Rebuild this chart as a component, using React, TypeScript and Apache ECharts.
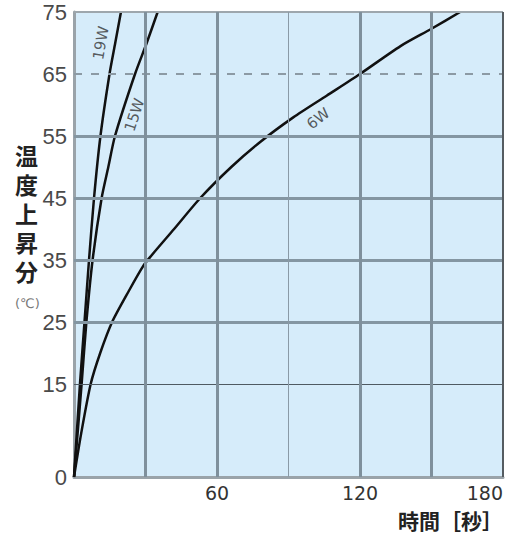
import React, { useEffect, useRef } from "react";
import * as echarts from "echarts";

// ---- data ----
const xTickLabels = [60, 120, 180];
const yTickLabels = [0, 15, 25, 35, 45, 55, 65, 75];

const time19W = [0, 2.5, 4.4, 6.3, 8.4, 11.1, 14.9, 17.3, 19.7];
const temp19W = [0, 15, 25, 35, 45, 55, 65, 70, 75];

const time15W = [0, 3.2, 5.2, 7.8, 11.6, 14.4, 17.2, 25.6, 30.5, 35.1];
const temp15W = [0, 15, 25, 35, 45, 50, 55, 65, 70, 75];

const time6W = [0, 3, 7, 11, 16, 23, 29, 32, 42, 53, 66, 78, 92, 106, 120, 137, 150, 162];
const temp6W = [0, 7, 15, 20, 25, 30, 34, 35.5, 40, 45, 50, 54, 58, 61.5, 65, 69.5, 72.3, 75];

const curveNames = ["19W", "15W", "6W"];
const labelTimes = [11.3, 25.4, 102.5];
const labelTemps = [70, 58.4, 57.8];

const yTitleChars = ["温", "度", "上", "昇", "分"];

const hGridThin = [15];
const hGridThick = [25, 35, 45, 55];
const hGridDashed = [65];
const vGridThick = [30, 60, 120, 150];
const vGridThin = [90];

const pairs = (xs: number[], ys: number[]) => xs.map((x, i) => [x, ys[i]]);

export default function App() {
  const ref = useRef<HTMLDivElement>(null);

  useEffect(() => {
    if (!ref.current) return;
    const chart = echarts.init(ref.current, undefined, { renderer: "svg" });

    const labelRot = [80, 72, 38];

    const markData: any[] = [
      ...hGridThin.map((v) => ({ yAxis: v, lineStyle: { color: "#4f5a62", width: 1, type: "solid" } })),
      ...hGridThick.map((v) => ({ yAxis: v, lineStyle: { color: "#8496a2", width: 3, type: "solid" } })),
      ...hGridDashed.map((v) => ({ yAxis: v, lineStyle: { color: "#8c9aa4", width: 2, type: [8, 9] } })),
      { yAxis: 75, lineStyle: { color: "#9ea7ad", width: 2, type: "solid" } },
      ...vGridThick.map((v) => ({ xAxis: v, lineStyle: { color: "#7f909c", width: 3, type: "solid" } })),
      ...vGridThin.map((v) => ({ xAxis: v, lineStyle: { color: "#8a9aa6", width: 1, type: "solid" } })),
      { xAxis: 180, lineStyle: { color: "#555c61", width: 2, type: "solid" } },
    ];

    const curveSeries = [
      pairs(time19W, temp19W),
      pairs(time15W, temp15W),
      pairs(time6W, temp6W),
    ].map((d, i) => ({
      type: "line",
      name: curveNames[i],
      data: d,
      showSymbol: false,
      smooth: 0.25,
      z: 4,
      lineStyle: { color: "#111", width: 2.5 },
      silent: true,
    }));

    chart.setOption({
      animation: false,
      backgroundColor: "#ffffff",
      grid: {
        left: 74,
        right: 10,
        top: 12,
        bottom: 61,
        show: true,
        backgroundColor: "#d6ecfa",
        borderWidth: 0,
      },
      xAxis: {
        type: "value",
        min: 0,
        max: 180,
        axisLine: { show: true, lineStyle: { color: "#9aa3a9", width: 3 } },
        axisTick: { show: false },
        splitLine: { show: false },
        axisLabel: {
          customValues: xTickLabels,
          alignMaxLabel: "right",
          fontFamily: "DejaVu Sans",
          fontSize: 19,
          color: "#333",
          margin: 6,
        },
      },
      yAxis: {
        type: "value",
        min: 0,
        max: 75,
        axisLine: { show: true, lineStyle: { color: "#9aa3a9", width: 3 } },
        axisTick: { show: false },
        splitLine: { show: false },
        axisLabel: {
          customValues: yTickLabels,
          fontFamily: "Liberation Sans",
          fontSize: 22,
          color: "#4a4a4a",
          margin: 7,
        },
      },
      series: [
        {
          type: "line",
          data: [],
          z: 1,
          silent: true,
          markLine: {
            silent: true,
            symbol: ["none", "none"],
            label: { show: false },
            emphasis: { disabled: true },
            data: markData,
          },
        },
        ...curveSeries,
        {
          type: "scatter",
          symbolSize: 0,
          z: 5,
          silent: true,
          data: curveNames.map((n, i) => ({
            name: n,
            value: [labelTimes[i], labelTemps[i]],
            label: { rotate: labelRot[i] },
          })),
          label: {
            show: true,
            position: "inside",
            formatter: "{b}",
            fontFamily: "DejaVu Sans",
            fontSize: 15,
            color: "#333",
          },
        },
      ],
      graphic: [
        ...yTitleChars.map((c, i) => ({
          type: "text",
          left: 15,
          top: 144 + i * 29,
          style: {
            text: c,
            fontFamily: '"DejaVu Sans", "Noto Sans CJK JP"',
            fontWeight: "bold",
            fontSize: 23,
            lineHeight: 26,
            fill: "#222",
          },
        })),
        {
          type: "text",
          left: 15,
          top: 297,
          style: {
            text: "(℃)",
            fontFamily: "DejaVu Sans",
            fontSize: 13,
            fill: "#777",
          },
        },
        {
          type: "text",
          left: 398,
          top: 509,
          style: {
            text: "時間［秒］",
            fontFamily: "Noto Sans CJK JP",
            fontWeight: "bold",
            fontSize: 21,
            fill: "#222",
          },
        },
      ],
    });

    return () => chart.dispose();
  }, []);

  return (
    <div
      ref={ref}
      style={{ position: "absolute", left: 0, top: 0, width: 513, height: 538, background: "#fff" }}
    />
  );
}
